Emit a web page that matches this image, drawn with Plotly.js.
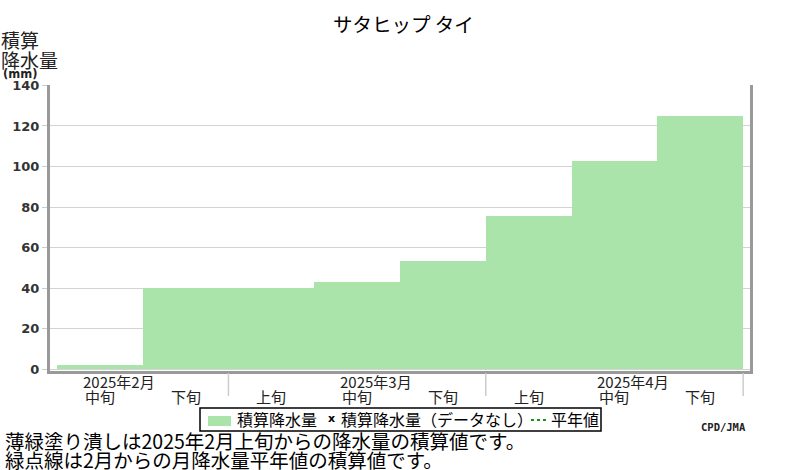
<!DOCTYPE html>
<html><head><meta charset="utf-8">
<script src="https://cdn.plot.ly/plotly-3.0.1.min.js"></script>
<style>html,body{margin:0;padding:0;background:#fff}#c{width:800px;height:470px}</style>
</head><body><div id="c"></div>
<script>
// ---- data ----
const dekadLabels = ["中旬","下旬","上旬","中旬","下旬","上旬","中旬","下旬"];
const dekadMonths = ["2025年2月","2025年2月","2025年3月","2025年3月","2025年3月","2025年4月","2025年4月","2025年4月"];
const accumPrecip = [2.2, 40.1, 40.3, 43.2, 53.6, 75.8, 102.8, 124.7];
const yTicks = [0, 20, 40, 60, 80, 100, 120, 140];
const titleText = "サタヒップ タイ";
const yTitleLines = ["積算", "降水量"];
const yUnit = "(mm)";
const legendLabels = ["積算降水量", "積算降水量（データなし）", "平年値"];
const footerLines = ["薄緑塗り潰しは2025年2月上旬からの降水量の積算値です。", "緑点線は2月からの月降水量平年値の積算値です。"];
const creditText = "CPD/JMA";

// ---- layout helpers (pixel -> paper) ----
const L = 50, R = 750, T = 85, B = 371;
const px = x => (x - L) / (R - L);
const py = y => (B - y) / (B - T);
const jp = "Noto Sans CJK JP";
const green = "#ABE4AB";

const xs = dekadLabels.map((_, i) => i);

const annotations = [];
const shapes = [];

// dekad labels
dekadLabels.forEach((lab, i) => {
  annotations.push({xref: "x", yref: "paper", x: i, y: py(396), text: lab, showarrow: false,
    xanchor: "center", yanchor: "middle", font: {family: jp, size: 15, color: "#222"}});
});
// month labels (placed near the 中旬 of each month)
const months = [...new Set(dekadMonths)];
months.forEach(m => {
  const idx = dekadMonths.findIndex((mm, i) => mm === m && dekadLabels[i] === "中旬");
  annotations.push({xref: "x", yref: "paper", x: idx + 0.22, y: py(381), text: m, showarrow: false,
    xanchor: "center", yanchor: "middle", font: {family: jp, size: 15, color: "#222"}});
});
// month separators (after each 下旬)
dekadLabels.forEach((lab, i) => {
  if (lab === "下旬") {
    shapes.push({type: "line", xref: "x", yref: "paper", x0: i + 0.5, x1: i + 0.5, y0: py(373), y1: py(396),
      line: {color: "#cccccc", width: 1.5}});
  }
});

// title
annotations.push({xref: "paper", yref: "paper", x: px(403), y: py(24), text: titleText, showarrow: false,
  xanchor: "center", yanchor: "middle", font: {family: jp, size: 19.5, color: "#000"}});
// y axis title
annotations.push({xref: "paper", yref: "paper", x: px(-1), y: py(39), text: yTitleLines[0], showarrow: false,
  xanchor: "left", yanchor: "middle", font: {family: jp, size: 19, color: "#222"}});
annotations.push({xref: "paper", yref: "paper", x: px(-1), y: py(59), text: yTitleLines[1], showarrow: false,
  xanchor: "left", yanchor: "middle", font: {family: jp, size: 19, color: "#222"}});
annotations.push({xref: "paper", yref: "paper", x: px(1), y: py(74), text: "<b>" + yUnit + "</b>", showarrow: false,
  xanchor: "left", yanchor: "middle", font: {family: "DejaVu Sans", size: 11.5, color: "#222"}});

// legend (manual)
shapes.push({type: "rect", xref: "paper", yref: "paper", x0: px(200), x1: px(601), y0: py(408), y1: py(431),
  line: {color: "#000", width: 1.5}, fillcolor: "rgba(0,0,0,0)"});
shapes.push({type: "rect", xref: "paper", yref: "paper", x0: px(208), x1: px(231), y0: py(416), y1: py(426),
  line: {width: 0}, fillcolor: green});
annotations.push({xref: "paper", yref: "paper", x: px(235), y: py(419), text: legendLabels[0], showarrow: false,
  xanchor: "left", yanchor: "middle", font: {family: jp, size: 16, color: "#000"}});
annotations.push({xref: "paper", yref: "paper", x: px(331), y: py(418), text: "<b>x</b>", showarrow: false,
  xanchor: "center", yanchor: "middle", font: {family: "DejaVu Sans", size: 11, color: "#000"}});
annotations.push({xref: "paper", yref: "paper", x: px(339), y: py(419), text: legendLabels[1], showarrow: false,
  xanchor: "left", yanchor: "middle", font: {family: jp, size: 16, color: "#000"}});
shapes.push({type: "line", xref: "paper", yref: "paper", x0: px(531), x1: px(547), y0: py(420), y1: py(420),
  line: {color: "#119911", width: 2, dash: "dot"}});
annotations.push({xref: "paper", yref: "paper", x: px(549), y: py(419), text: legendLabels[2], showarrow: false,
  xanchor: "left", yanchor: "middle", font: {family: jp, size: 16, color: "#000"}});

// credit
annotations.push({xref: "paper", yref: "paper", x: px(748), y: py(427), text: "<b>" + creditText + "</b>", showarrow: false,
  xanchor: "right", yanchor: "middle", font: {family: "DejaVu Sans Mono", size: 10.5, color: "#222"}});

// footer
footerLines.forEach((t, i) => {
  annotations.push({xref: "paper", yref: "paper", x: px(3), y: py(440 + 19 * i), text: t, showarrow: false,
    xanchor: "left", yanchor: "middle", font: {family: jp, size: 19.5, color: "#000"}});
});

const traces = [{
  type: "bar", x: xs, y: accumPrecip, width: 1, marker: {color: green, line: {width: 0}},
  showlegend: false, hoverinfo: "skip"
}];

const layout = {
  width: 800, height: 470,
  margin: {l: L, r: 800 - R, t: T, b: 470 - B, pad: 0},
  paper_bgcolor: "#fff", plot_bgcolor: "#fff",
  showlegend: false,
  bargap: 0,
  xaxis: {range: [-0.58, 7.58], showticklabels: false, ticks: "", showgrid: false, zeroline: false,
    showline: true, linecolor: "#999", linewidth: 3, mirror: false, fixedrange: true},
  yaxis: {range: [-0.8, 140.2], tickvals: yTicks, ticktext: yTicks.map(v => "<b>" + v + "</b>"),
    ticks: "outside", ticklen: 5, tickcolor: "#cccccc", tickwidth: 1,
    showgrid: true, gridcolor: "#d3d3d3", gridwidth: 1, zeroline: false,
    showline: true, linecolor: "#999", linewidth: 3, mirror: true,
    tickfont: {family: "DejaVu Sans", size: 13, color: "#333"}, fixedrange: true},
  annotations: annotations,
  shapes: shapes
};

Plotly.newPlot("c", traces, layout, {displayModeBar: false, staticPlot: true});
</script>
</body></html>
